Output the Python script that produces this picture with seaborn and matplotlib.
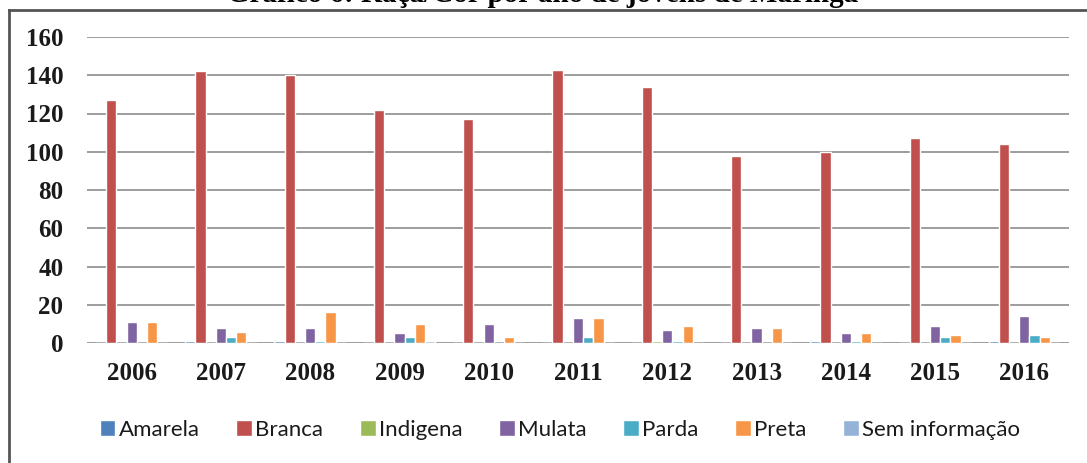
import matplotlib
matplotlib.use("Agg")
import matplotlib.pyplot as plt
from matplotlib.lines import Line2D
import pandas as pd
import seaborn as sns

# Race/colour counts per year
anos = ["2006", "2007", "2008", "2009", "2010", "2011",
        "2012", "2013", "2014", "2015", "2016"]
categorias = ["Amarela", "Branca", "Indigena", "Mulata", "Parda", "Preta",
              "Sem informação"]

amarela = [0, 1, 1, 0, 0, 0, 0, 0, 1, 0, 1]
branca = [127, 142, 140, 122, 117, 143, 134, 98, 100, 107, 104]
indigena = [0, 0, 0, 0, 0, 0, 1, 0, 0, 0, 0]
mulata = [11, 8, 8, 5, 10, 13, 7, 8, 5, 9, 14]
parda = [0, 3, 1, 3, 0, 3, 1, 0, 1, 3, 4]
preta = [11, 6, 16, 10, 3, 13, 9, 8, 5, 4, 3]
sem_info = [0, 0, 0, 1, 0, 0, 0, 0, 0, 0, 0]

titulo = "Gráfico 6: Raça/Cor por ano de jovens de Maringá"

cores = ["#4F81BD", "#C0504D", "#9BBB59", "#8064A2", "#4BACC6", "#F79646",
         "#95B3D7"]

series = [amarela, branca, indigena, mulata, parda, preta, sem_info]
linhas = []
for cat, vals in zip(categorias, series):
    for ano, v in zip(anos, vals):
        linhas.append({"Ano": ano, "Categoria": cat, "Valor": v})
df = pd.DataFrame(linhas)

sns.set_theme(style="white")
plt.rcParams["font.family"] = ["Liberation Serif", "DejaVu Serif"]

W, H = 1087, 463
fig = plt.figure(figsize=(W / 100, H / 100), dpi=100)
fig.patch.set_facecolor("white")

ax = fig.add_axes([87 / W, 1 - 343 / H, (1069 - 87) / W, (343 - 37) / H])

sns.barplot(data=df, x="Ano", y="Valor", hue="Categoria",
            hue_order=categorias, order=anos, palette=cores,
            width=0.8, saturation=1, errorbar=None, ax=ax, legend=True)

ax.set_ylim(0, 160)
ax.set_yticks(range(0, 161, 20))
ax.set_xlim(-0.5, len(anos) - 0.5)
ax.set_xlabel("")
ax.set_ylabel("")
for s in ax.spines.values():
    s.set_visible(False)
ax.yaxis.grid(True, color="#8C8C8C", linewidth=1.2)
ax.set_axisbelow(True)
ax.tick_params(axis="both", length=0, colors="#1A1A1A")
ax.tick_params(axis="y", pad=17)
ax.tick_params(axis="x", pad=14)
for lab in ax.get_yticklabels() + ax.get_xticklabels():
    lab.set_fontsize(18)
    lab.set_fontweight("bold")

handles, labels = ax.get_legend_handles_labels()
ax.get_legend().remove()
fig.legend(handles, labels, loc="center", ncol=7,
           bbox_to_anchor=(560 / W, 1 - 430 / H),
           frameon=False, prop={"family": ["Lato", "DejaVu Sans"], "size": 16},
           handlelength=0.7, handleheight=0.7, handletextpad=0.15,
           columnspacing=1.65, labelcolor="#1A1A1A")

# outer chart frame: left and top edges
frame_x, frame_y = 9 / W, 1 - 10 / H
fig.add_artist(Line2D([frame_x, frame_x], [-0.05, frame_y],
                      transform=fig.transFigure, color="#555555",
                      linewidth=2, solid_capstyle="projecting"))
fig.add_artist(Line2D([frame_x, 1.05], [frame_y, frame_y],
                      transform=fig.transFigure, color="#555555",
                      linewidth=2, solid_capstyle="projecting"))

fig.text(543 / W, 1 - 2 / H, titulo, ha="center", va="baseline",
         fontsize=21, fontweight="bold", color="black")

fig.savefig("out.png", dpi=100)
